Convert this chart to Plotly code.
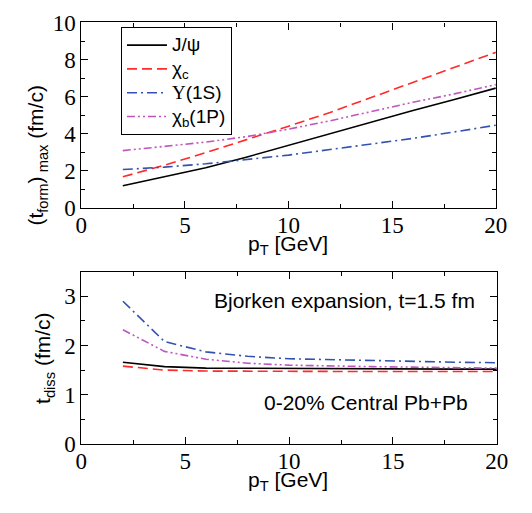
import plotly.graph_objects as go

W, H = 532, 513


def px(x):
    return x / W


def py(y):
    return 1 - y / H


# ---- data ----
pt = [2, 4, 6, 8, 10, 12, 14, 16, 18, 20]
names = ["J/ψ", "χ<sub>c</sub>",
         "<span style='font-family:Liberation Serif'>Υ</span>(1S)",
         "χ<sub>b</sub>(1P)"]

tform_jpsi = [1.2, 1.68, 2.17, 2.75, 3.38, 3.98, 4.62, 5.25, 5.85, 6.46]
tform_chic = [1.68, 2.3, 2.98, 3.68, 4.41, 5.15, 5.95, 6.75, 7.55, 8.39]
tform_ups = [2.07, 2.2, 2.38, 2.6, 2.85, 3.15, 3.45, 3.75, 4.1, 4.46]
tform_chib = [3.09, 3.3, 3.55, 3.85, 4.25, 4.7, 5.2, 5.7, 6.15, 6.65]

tdiss_jpsi = [1.66, 1.57, 1.54, 1.535, 1.53, 1.53, 1.525, 1.525, 1.52, 1.52]
tdiss_chic = [1.58, 1.5, 1.48, 1.475, 1.47, 1.47, 1.47, 1.47, 1.47, 1.47]
tdiss_ups = [2.9, 2.08, 1.87, 1.78, 1.73, 1.71, 1.69, 1.67, 1.66, 1.65]
tdiss_chib = [2.32, 1.88, 1.72, 1.64, 1.6, 1.58, 1.57, 1.56, 1.55, 1.54]

colors = ["#000000", "#ff2a2a", "#3352b0", "#c055c0"]
dashes = ["solid", "10px,5px", "10px,4px,2px,4px", "8px,3px,2px,3px,2px,3px"]

top_sets = [tform_jpsi, tform_chic, tform_ups, tform_chib]
bot_sets = [tdiss_jpsi, tdiss_chic, tdiss_ups, tdiss_chib]

fig = go.Figure()
for i in range(4):
    fig.add_trace(go.Scatter(x=pt, y=top_sets[i], mode="lines",
                             name="<span style='font-size:19px'>" + names[i] + "</span>",
                             line=dict(color=colors[i], width=1.6, dash=dashes[i]),
                             xaxis="x", yaxis="y", showlegend=True))
for i in range(4):
    fig.add_trace(go.Scatter(x=pt, y=bot_sets[i], mode="lines", name=names[i],
                             line=dict(color=colors[i], width=1.6, dash=dashes[i]),
                             xaxis="x2", yaxis="y2", showlegend=False))

serif = "Liberation Serif, Times New Roman, serif"
sans = "Liberation Sans, Arial, sans-serif"

common = dict(showline=True, linecolor="black", linewidth=1.2, mirror="ticks",
              ticks="inside", ticklen=7, tickwidth=1, tickcolor="black",
              showgrid=False, zeroline=False, ticklabeloverflow="allow",
              tickfont=dict(family=serif, size=23, color="black"))

fig.update_layout(
    width=W, height=H,
    margin=dict(l=0, r=0, t=0, b=0),
    paper_bgcolor="white", plot_bgcolor="white",
    xaxis=dict(domain=[px(78), px(507)], range=[0, 20], dtick=5, anchor="y",
               ticklabelstandoff=-4,
               minor=dict(dtick=2.5, ticklen=4, ticks="inside", tickcolor="black"), **common),
    yaxis=dict(domain=[py(206), py(11)], range=[0, 10], dtick=2, anchor="x",
               minor=dict(dtick=1, ticklen=4, ticks="inside", tickcolor="black"), **common),
    xaxis2=dict(domain=[px(78), px(508)], range=[0, 20], dtick=5, anchor="y2",
                ticklabelstandoff=-4,
                minor=dict(dtick=2.5, ticklen=4, ticks="inside", tickcolor="black"), **common),
    yaxis2=dict(domain=[py(454), py(273)], range=[0, 3.5], dtick=1, anchor="x2",
                minor=dict(dtick=0.5, ticklen=4, ticks="inside", tickcolor="black"), **common),
    legend=dict(x=px(119), y=py(16), xanchor="left", yanchor="top",
                bordercolor="black", borderwidth=1, bgcolor="white",
                font=dict(family=sans, size=16, color="black"),
                itemwidth=40, tracegroupgap=0),
)

ann = [
    dict(text="p<sub>T</sub> [GeV]", x=px(292), y=py(245)),
    dict(text="p<sub>T</sub> [GeV]", x=px(292), y=py(493)),
    dict(text="(t<sub>form</sub>)<sub> max</sub> (fm/c)", x=px(32), y=py(150), textangle=-90),
    dict(text="t<sub>diss</sub> (fm/c)", x=px(40), y=py(364), textangle=-90),
    dict(text="Bjorken expansion, t=1.5 fm", x=px(350), y=py(303)),
    dict(text="0-20% Central Pb+Pb", x=px(373), y=py(411)),
]
for a in ann:
    fig.add_annotation(xref="paper", yref="paper", showarrow=False,
                       xanchor="center", yanchor="middle",
                       font=dict(family=sans, size=21, color="black"), **a)

fig.write_html("out.html")
